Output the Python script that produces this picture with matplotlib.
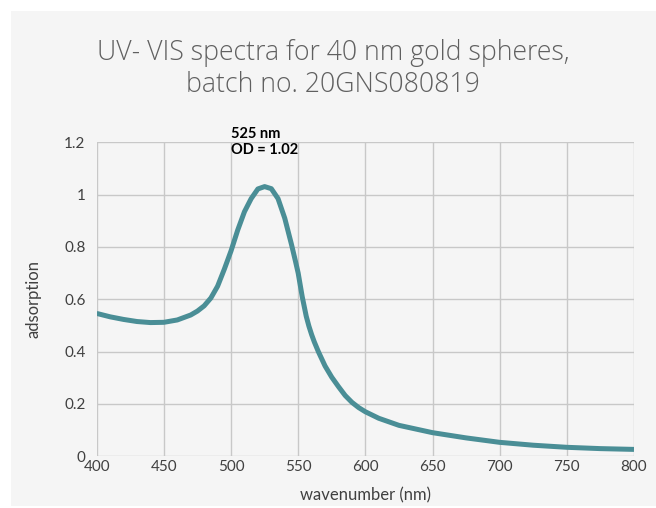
import matplotlib.pyplot as plt
from matplotlib.patches import Rectangle

# values
wavelength = [400, 410, 420, 430, 440, 450, 460, 470, 475, 480, 485, 490, 495,
              500, 505, 510, 515, 520, 525, 530, 535, 540, 545, 548, 550, 553,
              556, 558, 560, 562, 565, 570, 575, 580, 585, 590, 595, 600, 610,
              625, 650, 675, 700, 725, 750, 775, 800]
absorbance = [0.546, 0.533, 0.523, 0.515, 0.511, 0.512, 0.521, 0.540, 0.555,
              0.575, 0.605, 0.650, 0.715, 0.785, 0.865, 0.935, 0.985, 1.022,
              1.031, 1.023, 0.985, 0.910, 0.810, 0.745, 0.700, 0.610, 0.535,
              0.497, 0.465, 0.437, 0.400, 0.345, 0.302, 0.266, 0.232, 0.206,
              0.186, 0.170, 0.145, 0.118, 0.090, 0.070, 0.053, 0.042, 0.034,
              0.029, 0.026]
x_ticks = [400, 450, 500, 550, 600, 650, 700, 750, 800]
y_ticks = [0, 0.2, 0.4, 0.6, 0.8, 1.0, 1.2]
y_tick_labels = ['0', '0.2', '0.4', '0.6', '0.8', '1', '1.2']

plt.rcParams['font.family'] = ['Lato', 'DejaVu Sans']

W, H = 656, 508
fig = plt.figure(figsize=(W / 100, H / 100), dpi=100)
fig.patch.set_facecolor('white')

# light grey panel behind everything
fig.patches.append(Rectangle((11 / W, 2 / H), 1 - 11 / W, (H - 13) / H,
                             transform=fig.transFigure, facecolor='#f5f5f5',
                             edgecolor='none', zorder=-5))

ax = fig.add_axes([96.7 / W, (H - 456.2) / H, (634 - 96.7) / W, (456.2 - 142.4) / H])
ax.set_facecolor('none')

ax.plot(wavelength, absorbance, color='#4a8e96', lw=3.6,
        solid_joinstyle='round', solid_capstyle='butt', zorder=3)

ax.set_xlim(400, 800)
ax.set_ylim(0, 1.2)
ax.set_xticks(x_ticks)
ax.set_yticks(y_ticks)
ax.set_yticklabels(y_tick_labels)
ax.grid(True, color='#c8c8c8', lw=1.0)
ax.set_axisbelow(True)
for s in ax.spines.values():
    s.set_visible(False)
ax.tick_params(length=0, labelsize=11, colors='#404040')
ax.tick_params(axis='x', pad=3)
ax.tick_params(axis='y', pad=8)

ax.set_xlabel('wavenumber (nm)', fontsize=12, color='#404040', labelpad=9)
ax.set_ylabel('adsorption', fontsize=12, color='#404040', labelpad=16)

# peak annotation
ax.text(500, 1.258, '525 nm\nOD = 1.02', fontsize=10.5, fontweight='bold',
        color='black', ha='left', va='top', clip_on=False, linespacing=1.2)

# title
title_font = ['Open Sans', 'DejaVu Sans']
fig.text(0.508, 1 - 60 / H, 'UV- VIS spectra for 40 nm gold spheres,', family=title_font,
         ha='center', va='baseline', fontsize=19.2, color='#606060', fontweight='light')
fig.text(0.508, 1 - 92 / H, 'batch no. 20GNS080819', family=title_font,
         ha='center', va='baseline', fontsize=19.2, color='#606060', fontweight='light')

fig.savefig('out.png', dpi=100)
